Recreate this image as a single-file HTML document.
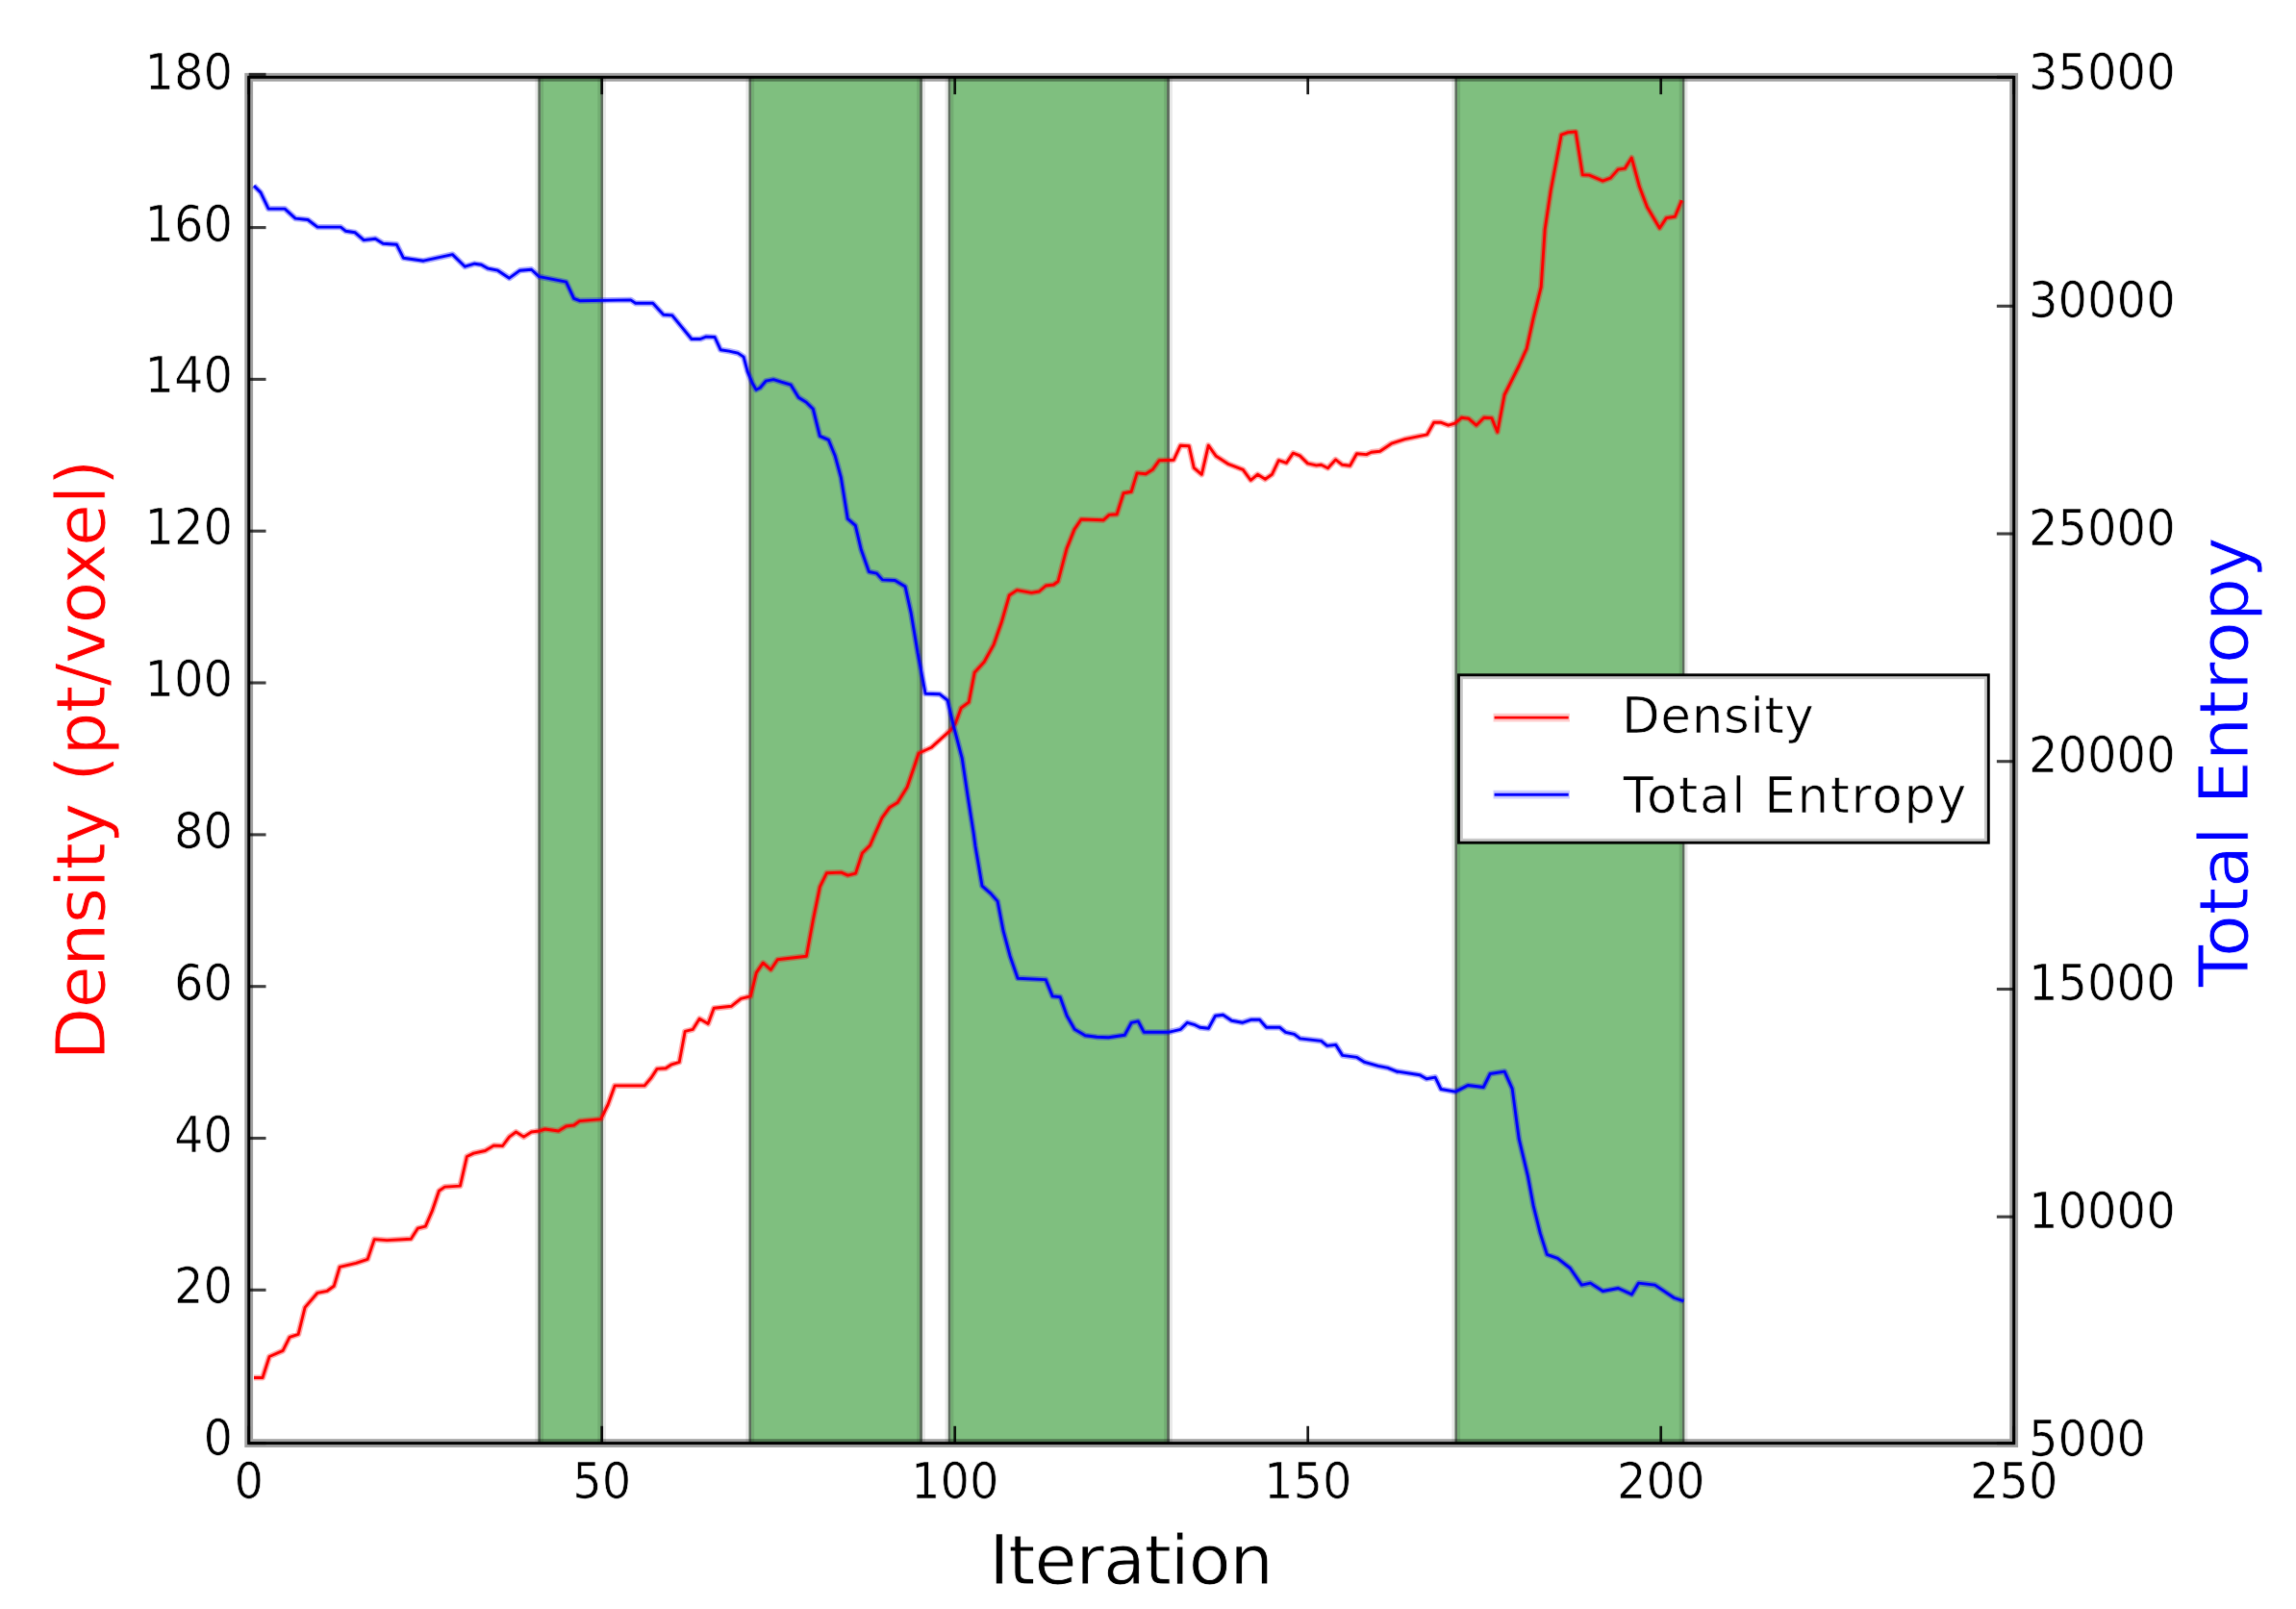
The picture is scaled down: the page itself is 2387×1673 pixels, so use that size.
<!DOCTYPE html>
<html><head><meta charset="utf-8"><title>Density and Total Entropy</title>
<style>html,body{margin:0;padding:0;background:#fff}body{width:2387px;height:1673px;overflow:hidden}</style></head>
<body>
<svg width="2387" height="1673" viewBox="0 0 2387 1673" style="display:block;font-family:'DejaVu Sans', 'Liberation Sans', sans-serif">
<g>
<rect x="-10" y="-10" width="2407" height="1693" fill="#fff"/>
<g id="bands">
<rect x="559.25" y="80.3" width="67.90" height="1420.3" fill="#7fbf7f"/>
<line x1="560.70" y1="80.3" x2="560.70" y2="1500.6" stroke="#5d6b5d" stroke-width="2.9"/>
<line x1="557.80" y1="80.3" x2="557.80" y2="1500.6" stroke="#e8e8e8" stroke-width="2.9"/>
<line x1="563.60" y1="80.3" x2="563.60" y2="1500.6" stroke="#72ad72" stroke-width="2.9"/>
<line x1="625.70" y1="80.3" x2="625.70" y2="1500.6" stroke="#5d6b5d" stroke-width="2.9"/>
<line x1="628.60" y1="80.3" x2="628.60" y2="1500.6" stroke="#e8e8e8" stroke-width="2.9"/>
<line x1="622.80" y1="80.3" x2="622.80" y2="1500.6" stroke="#72ad72" stroke-width="2.9"/>
<rect x="778.35" y="80.3" width="180.60" height="1420.3" fill="#7fbf7f"/>
<line x1="779.80" y1="80.3" x2="779.80" y2="1500.6" stroke="#5d6b5d" stroke-width="2.9"/>
<line x1="776.90" y1="80.3" x2="776.90" y2="1500.6" stroke="#e8e8e8" stroke-width="2.9"/>
<line x1="782.70" y1="80.3" x2="782.70" y2="1500.6" stroke="#72ad72" stroke-width="2.9"/>
<line x1="957.50" y1="80.3" x2="957.50" y2="1500.6" stroke="#5d6b5d" stroke-width="2.9"/>
<line x1="960.40" y1="80.3" x2="960.40" y2="1500.6" stroke="#e8e8e8" stroke-width="2.9"/>
<line x1="954.60" y1="80.3" x2="954.60" y2="1500.6" stroke="#72ad72" stroke-width="2.9"/>
<rect x="985.55" y="80.3" width="230.40" height="1420.3" fill="#7fbf7f"/>
<line x1="987.00" y1="80.3" x2="987.00" y2="1500.6" stroke="#5d6b5d" stroke-width="2.9"/>
<line x1="984.10" y1="80.3" x2="984.10" y2="1500.6" stroke="#e8e8e8" stroke-width="2.9"/>
<line x1="989.90" y1="80.3" x2="989.90" y2="1500.6" stroke="#72ad72" stroke-width="2.9"/>
<line x1="1214.50" y1="80.3" x2="1214.50" y2="1500.6" stroke="#5d6b5d" stroke-width="2.9"/>
<line x1="1217.40" y1="80.3" x2="1217.40" y2="1500.6" stroke="#e8e8e8" stroke-width="2.9"/>
<line x1="1211.60" y1="80.3" x2="1211.60" y2="1500.6" stroke="#72ad72" stroke-width="2.9"/>
<rect x="1512.35" y="80.3" width="239.20" height="1420.3" fill="#7fbf7f"/>
<line x1="1513.80" y1="80.3" x2="1513.80" y2="1500.6" stroke="#5d6b5d" stroke-width="2.9"/>
<line x1="1510.90" y1="80.3" x2="1510.90" y2="1500.6" stroke="#e8e8e8" stroke-width="2.9"/>
<line x1="1516.70" y1="80.3" x2="1516.70" y2="1500.6" stroke="#72ad72" stroke-width="2.9"/>
<line x1="1750.10" y1="80.3" x2="1750.10" y2="1500.6" stroke="#5d6b5d" stroke-width="2.9"/>
<line x1="1753.00" y1="80.3" x2="1753.00" y2="1500.6" stroke="#e8e8e8" stroke-width="2.9"/>
<line x1="1747.20" y1="80.3" x2="1747.20" y2="1500.6" stroke="#72ad72" stroke-width="2.9"/>
</g>
<g id="red" fill="none" stroke="#ff0000" stroke-linejoin="round" stroke-linecap="butt">
<path d="M264.0 1432.5 L273.0 1432.5 L280.1 1410.5 L294.1 1404.4 L301.1 1390.4 L310.1 1387.4 L317.1 1359.4 L330.1 1344.3 L340.2 1342.3 L347.2 1337.3 L353.2 1317.3 L370.2 1313.3 L382.2 1309.3 L389.2 1288.6 L402.3 1289.6 L427.3 1288.2 L434.3 1277.2 L442.3 1275.2 L449.3 1259.2 L456.4 1238.2 L462.4 1234.1 L478.4 1233.1 L485.4 1202.5 L492.4 1199.1 L504.4 1196.5 L513.5 1191.1 L522.5 1191.5 L529.5 1182.1 L536.5 1177.0 L544.5 1182.1 L552.5 1177.0 L560.5 1176.0 L566.6 1174.0 L580.6 1176.0 L588.6 1171.0 L596.6 1170.0 L602.6 1165.6 L624.7 1163.6 L632.1 1148.5 L639.1 1128.9 L670.1 1128.9 L677.1 1120.5 L683.1 1111.4 L692.2 1110.8 L698.2 1106.8 L706.2 1104.4 L712.2 1072.4 L720.2 1070.4 L727.2 1059.3 L736.2 1064.4 L742.2 1048.3 L760.3 1046.3 L770.3 1038.3 L780.3 1035.9 L786.3 1011.3 L793.3 1001.2 L801.4 1008.3 L808.4 997.8 L838.4 994.2 L845.4 956.2 L852.4 922.1 L859.5 907.7 L874.5 907.1 L881.5 910.1 L889.5 908.1 L896.5 887.0 L904.5 879.0 L909.0 868.5 L917.0 850.4 L925.0 839.4 L933.1 834.4 L943.1 818.4 L950.1 798.3 L955.1 783.3 L968.1 777.3 L988.2 759.3 L993.2 752.3 L999.2 736.2 L1007.2 730.2 L1013.2 699.2 L1023.2 688.2 L1033.2 670.1 L1041.2 647.1 L1049.3 619.0 L1057.3 613.6 L1072.3 616.4 L1080.3 615.0 L1087.3 609.0 L1095.3 608.0 L1100.0 604.5 L1109.0 570.4 L1117.0 550.4 L1124.0 540.0 L1147.1 540.8 L1153.1 535.4 L1161.1 534.8 L1168.1 512.7 L1176.1 511.3 L1182.1 491.9 L1191.2 492.7 L1198.2 488.3 L1205.2 478.7 L1220.2 478.3 L1227.2 463.2 L1236.2 463.8 L1241.2 486.3 L1249.3 493.3 L1256.3 463.2 L1264.3 474.3 L1277.3 482.7 L1292.3 488.3 L1300.3 499.3 L1307.4 493.3 L1315.4 498.3 L1322.4 493.3 L1329.4 478.7 L1337.4 481.3 L1344.4 471.2 L1351.4 473.9 L1359.5 481.9 L1368.5 483.9 L1373.5 483.3 L1380.5 486.7 L1388.5 477.9 L1395.5 483.3 L1403.5 484.3 L1410.5 471.8 L1420.6 472.6 L1425.6 470.2 L1434.6 469.2 L1446.6 461.2 L1460.6 456.6 L1483.7 451.8 L1490.7 439.2 L1497.7 439.2 L1505.7 442.2 L1512.7 440.2 L1519.7 434.2 L1526.7 435.2 L1534.8 442.2 L1542.8 434.2 L1550.8 434.6 L1556.8 449.2 L1564.1 410.5 L1579.1 380.5 L1587.2 362.4 L1594.2 330.4 L1602.2 298.3 L1606.2 238.2 L1612.2 198.2 L1623.2 140.1 L1630.2 137.6 L1638.2 137.0 L1645.3 181.7 L1652.3 182.1 L1666.3 188.1 L1674.3 185.1 L1682.3 176.1 L1689.3 175.1 L1696.3 164.1 L1704.4 194.1 L1712.4 215.2 L1725.4 237.2 L1732.4 226.6 L1741.4 225.2 L1748.4 208.2" stroke-width="6.2" stroke-opacity="0.33"/>
<path d="M264.0 1432.5 L273.0 1432.5 L280.1 1410.5 L294.1 1404.4 L301.1 1390.4 L310.1 1387.4 L317.1 1359.4 L330.1 1344.3 L340.2 1342.3 L347.2 1337.3 L353.2 1317.3 L370.2 1313.3 L382.2 1309.3 L389.2 1288.6 L402.3 1289.6 L427.3 1288.2 L434.3 1277.2 L442.3 1275.2 L449.3 1259.2 L456.4 1238.2 L462.4 1234.1 L478.4 1233.1 L485.4 1202.5 L492.4 1199.1 L504.4 1196.5 L513.5 1191.1 L522.5 1191.5 L529.5 1182.1 L536.5 1177.0 L544.5 1182.1 L552.5 1177.0 L560.5 1176.0 L566.6 1174.0 L580.6 1176.0 L588.6 1171.0 L596.6 1170.0 L602.6 1165.6 L624.7 1163.6 L632.1 1148.5 L639.1 1128.9 L670.1 1128.9 L677.1 1120.5 L683.1 1111.4 L692.2 1110.8 L698.2 1106.8 L706.2 1104.4 L712.2 1072.4 L720.2 1070.4 L727.2 1059.3 L736.2 1064.4 L742.2 1048.3 L760.3 1046.3 L770.3 1038.3 L780.3 1035.9 L786.3 1011.3 L793.3 1001.2 L801.4 1008.3 L808.4 997.8 L838.4 994.2 L845.4 956.2 L852.4 922.1 L859.5 907.7 L874.5 907.1 L881.5 910.1 L889.5 908.1 L896.5 887.0 L904.5 879.0 L909.0 868.5 L917.0 850.4 L925.0 839.4 L933.1 834.4 L943.1 818.4 L950.1 798.3 L955.1 783.3 L968.1 777.3 L988.2 759.3 L993.2 752.3 L999.2 736.2 L1007.2 730.2 L1013.2 699.2 L1023.2 688.2 L1033.2 670.1 L1041.2 647.1 L1049.3 619.0 L1057.3 613.6 L1072.3 616.4 L1080.3 615.0 L1087.3 609.0 L1095.3 608.0 L1100.0 604.5 L1109.0 570.4 L1117.0 550.4 L1124.0 540.0 L1147.1 540.8 L1153.1 535.4 L1161.1 534.8 L1168.1 512.7 L1176.1 511.3 L1182.1 491.9 L1191.2 492.7 L1198.2 488.3 L1205.2 478.7 L1220.2 478.3 L1227.2 463.2 L1236.2 463.8 L1241.2 486.3 L1249.3 493.3 L1256.3 463.2 L1264.3 474.3 L1277.3 482.7 L1292.3 488.3 L1300.3 499.3 L1307.4 493.3 L1315.4 498.3 L1322.4 493.3 L1329.4 478.7 L1337.4 481.3 L1344.4 471.2 L1351.4 473.9 L1359.5 481.9 L1368.5 483.9 L1373.5 483.3 L1380.5 486.7 L1388.5 477.9 L1395.5 483.3 L1403.5 484.3 L1410.5 471.8 L1420.6 472.6 L1425.6 470.2 L1434.6 469.2 L1446.6 461.2 L1460.6 456.6 L1483.7 451.8 L1490.7 439.2 L1497.7 439.2 L1505.7 442.2 L1512.7 440.2 L1519.7 434.2 L1526.7 435.2 L1534.8 442.2 L1542.8 434.2 L1550.8 434.6 L1556.8 449.2 L1564.1 410.5 L1579.1 380.5 L1587.2 362.4 L1594.2 330.4 L1602.2 298.3 L1606.2 238.2 L1612.2 198.2 L1623.2 140.1 L1630.2 137.6 L1638.2 137.0 L1645.3 181.7 L1652.3 182.1 L1666.3 188.1 L1674.3 185.1 L1682.3 176.1 L1689.3 175.1 L1696.3 164.1 L1704.4 194.1 L1712.4 215.2 L1725.4 237.2 L1732.4 226.6 L1741.4 225.2 L1748.4 208.2" stroke-width="2.9"/>
</g>
<g id="blue" fill="none" stroke="#0000ff" stroke-linejoin="round" stroke-linecap="butt">
<path d="M264.0 193.1 L271.0 200.1 L279.1 217.1 L296.1 217.1 L307.1 227.1 L320.1 228.5 L330.1 236.1 L354.2 236.1 L359.2 240.2 L369.2 241.8 L378.2 249.6 L390.2 248.2 L398.3 253.2 L412.3 254.2 L419.3 268.2 L440.3 271.2 L470.4 264.6 L483.4 277.2 L493.4 274.2 L500.4 275.2 L507.4 279.2 L517.5 281.2 L529.5 289.2 L540.5 281.2 L552.5 280.2 L560.5 287.6 L588.6 293.2 L596.6 310.3 L602.6 312.7 L655.7 311.9 L660.7 315.3 L678.7 315.3 L689.8 327.3 L698.8 327.9 L708.0 339.1 L719.0 352.5 L728.0 352.5 L734.1 350.1 L743.1 350.5 L749.1 363.7 L758.1 365.1 L767.1 367.1 L773.1 371.1 L777.1 386.1 L782.1 398.2 L786.1 405.2 L790.2 403.2 L796.2 396.2 L804.2 394.6 L812.2 397.2 L822.2 400.2 L830.2 413.2 L838.2 418.2 L845.3 425.2 L852.3 453.3 L861.3 457.3 L868.3 474.3 L874.3 496.3 L881.3 539.4 L889.3 546.4 L895.3 571.5 L903.4 594.5 L911.4 596.1 L917.4 602.9 L930.4 603.5 L940.4 609.5 L941.1 610.0 L947.1 637.1 L954.1 679.1 L962.1 721.2 L977.1 721.8 L985.1 728.2 L991.2 754.3 L1000.2 788.3 L1006.2 828.4 L1012.2 866.5 L1014.0 880.0 L1021.0 921.1 L1030.1 929.1 L1037.1 937.1 L1043.1 968.2 L1050.1 994.2 L1058.1 1017.2 L1087.2 1018.6 L1094.2 1035.9 L1102.2 1036.7 L1109.2 1056.3 L1117.2 1070.3 L1128.2 1076.7 L1140.2 1078.3 L1152.3 1078.7 L1169.3 1076.3 L1176.3 1063.3 L1183.3 1061.9 L1189.3 1073.3 L1214.4 1073.3 L1227.4 1070.3 L1234.4 1063.3 L1241.4 1065.3 L1247.4 1068.3 L1256.4 1069.3 L1263.5 1056.3 L1271.5 1055.3 L1280.5 1061.3 L1291.5 1063.3 L1300.5 1060.3 L1309.5 1060.3 L1316.6 1068.3 L1330.6 1068.3 L1336.6 1073.3 L1345.6 1075.3 L1351.6 1079.9 L1373.6 1082.4 L1379.7 1087.4 L1388.7 1086.4 L1395.7 1097.4 L1410.7 1099.4 L1418.7 1104.4 L1432.8 1108.4 L1442.8 1110.4 L1452.8 1114.4 L1453.0 1114.1 L1476.1 1117.7 L1483.1 1121.7 L1492.1 1120.1 L1498.1 1132.5 L1513.1 1135.1 L1526.1 1128.5 L1542.2 1130.5 L1549.2 1116.5 L1564.2 1114.1 L1572.2 1132.1 L1579.2 1184.2 L1588.3 1222.3 L1594.3 1254.4 L1601.3 1282.4 L1608.3 1304.4 L1619.3 1308.4 L1632.3 1318.5 L1644.4 1336.1 L1653.4 1334.1 L1666.4 1342.5 L1682.4 1339.5 L1696.4 1345.9 L1703.5 1334.1 L1720.5 1336.1 L1740.5 1349.5 L1750.5 1352.9" stroke-width="6.2" stroke-opacity="0.33"/>
<path d="M264.0 193.1 L271.0 200.1 L279.1 217.1 L296.1 217.1 L307.1 227.1 L320.1 228.5 L330.1 236.1 L354.2 236.1 L359.2 240.2 L369.2 241.8 L378.2 249.6 L390.2 248.2 L398.3 253.2 L412.3 254.2 L419.3 268.2 L440.3 271.2 L470.4 264.6 L483.4 277.2 L493.4 274.2 L500.4 275.2 L507.4 279.2 L517.5 281.2 L529.5 289.2 L540.5 281.2 L552.5 280.2 L560.5 287.6 L588.6 293.2 L596.6 310.3 L602.6 312.7 L655.7 311.9 L660.7 315.3 L678.7 315.3 L689.8 327.3 L698.8 327.9 L708.0 339.1 L719.0 352.5 L728.0 352.5 L734.1 350.1 L743.1 350.5 L749.1 363.7 L758.1 365.1 L767.1 367.1 L773.1 371.1 L777.1 386.1 L782.1 398.2 L786.1 405.2 L790.2 403.2 L796.2 396.2 L804.2 394.6 L812.2 397.2 L822.2 400.2 L830.2 413.2 L838.2 418.2 L845.3 425.2 L852.3 453.3 L861.3 457.3 L868.3 474.3 L874.3 496.3 L881.3 539.4 L889.3 546.4 L895.3 571.5 L903.4 594.5 L911.4 596.1 L917.4 602.9 L930.4 603.5 L940.4 609.5 L941.1 610.0 L947.1 637.1 L954.1 679.1 L962.1 721.2 L977.1 721.8 L985.1 728.2 L991.2 754.3 L1000.2 788.3 L1006.2 828.4 L1012.2 866.5 L1014.0 880.0 L1021.0 921.1 L1030.1 929.1 L1037.1 937.1 L1043.1 968.2 L1050.1 994.2 L1058.1 1017.2 L1087.2 1018.6 L1094.2 1035.9 L1102.2 1036.7 L1109.2 1056.3 L1117.2 1070.3 L1128.2 1076.7 L1140.2 1078.3 L1152.3 1078.7 L1169.3 1076.3 L1176.3 1063.3 L1183.3 1061.9 L1189.3 1073.3 L1214.4 1073.3 L1227.4 1070.3 L1234.4 1063.3 L1241.4 1065.3 L1247.4 1068.3 L1256.4 1069.3 L1263.5 1056.3 L1271.5 1055.3 L1280.5 1061.3 L1291.5 1063.3 L1300.5 1060.3 L1309.5 1060.3 L1316.6 1068.3 L1330.6 1068.3 L1336.6 1073.3 L1345.6 1075.3 L1351.6 1079.9 L1373.6 1082.4 L1379.7 1087.4 L1388.7 1086.4 L1395.7 1097.4 L1410.7 1099.4 L1418.7 1104.4 L1432.8 1108.4 L1442.8 1110.4 L1452.8 1114.4 L1453.0 1114.1 L1476.1 1117.7 L1483.1 1121.7 L1492.1 1120.1 L1498.1 1132.5 L1513.1 1135.1 L1526.1 1128.5 L1542.2 1130.5 L1549.2 1116.5 L1564.2 1114.1 L1572.2 1132.1 L1579.2 1184.2 L1588.3 1222.3 L1594.3 1254.4 L1601.3 1282.4 L1608.3 1304.4 L1619.3 1308.4 L1632.3 1318.5 L1644.4 1336.1 L1653.4 1334.1 L1666.4 1342.5 L1682.4 1339.5 L1696.4 1345.9 L1703.5 1334.1 L1720.5 1336.1 L1740.5 1349.5 L1750.5 1352.9" stroke-width="2.9"/>
</g>
<g id="spines" fill="none">
<rect x="258.7" y="80.3" width="1835.0" height="1420.3" stroke="#000" stroke-opacity="0.37" stroke-width="8.8"/>
<rect x="258.7" y="80.3" width="1835.0" height="1420.3" stroke="#000" stroke-width="3"/>
</g>
<g id="xticks" stroke="#000" stroke-width="2.7" stroke-opacity="0.9">
<line x1="258.7" y1="1500.6" x2="258.7" y2="1482.8"/>
<line x1="258.7" y1="80.3" x2="258.7" y2="98.1"/>
<line x1="625.7" y1="1500.6" x2="625.7" y2="1482.8"/>
<line x1="625.7" y1="80.3" x2="625.7" y2="98.1"/>
<line x1="992.7" y1="1500.6" x2="992.7" y2="1482.8"/>
<line x1="992.7" y1="80.3" x2="992.7" y2="98.1"/>
<line x1="1359.7" y1="1500.6" x2="1359.7" y2="1482.8"/>
<line x1="1359.7" y1="80.3" x2="1359.7" y2="98.1"/>
<line x1="1726.7" y1="1500.6" x2="1726.7" y2="1482.8"/>
<line x1="1726.7" y1="80.3" x2="1726.7" y2="98.1"/>
<line x1="2093.7" y1="1500.6" x2="2093.7" y2="1482.8"/>
<line x1="2093.7" y1="80.3" x2="2093.7" y2="98.1"/>
</g>
<g id="yticks" stroke="#000" stroke-width="3.1" stroke-opacity="0.75">
<line x1="258.7" y1="1500.6" x2="276.5" y2="1500.6"/>
<line x1="258.7" y1="1341.3" x2="276.5" y2="1341.3"/>
<line x1="258.7" y1="1183.5" x2="276.5" y2="1183.5"/>
<line x1="258.7" y1="1025.7" x2="276.5" y2="1025.7"/>
<line x1="258.7" y1="867.9" x2="276.5" y2="867.9"/>
<line x1="258.7" y1="710.0" x2="276.5" y2="710.0"/>
<line x1="258.7" y1="552.2" x2="276.5" y2="552.2"/>
<line x1="258.7" y1="394.4" x2="276.5" y2="394.4"/>
<line x1="258.7" y1="236.6" x2="276.5" y2="236.6"/>
<line x1="258.7" y1="77.4" x2="276.5" y2="77.4"/>
<line x1="2093.7" y1="1500.6" x2="2075.9" y2="1500.6"/>
<line x1="2093.7" y1="1265.2" x2="2075.9" y2="1265.2"/>
<line x1="2093.7" y1="1028.5" x2="2075.9" y2="1028.5"/>
<line x1="2093.7" y1="791.7" x2="2075.9" y2="791.7"/>
<line x1="2093.7" y1="555.0" x2="2075.9" y2="555.0"/>
<line x1="2093.7" y1="318.3" x2="2075.9" y2="318.3"/>
<line x1="2093.7" y1="80.3" x2="2075.9" y2="80.3"/>
</g>
<g id="ticklabels" font-size="50.0" fill="#000" stroke="#fff" stroke-width="0.7">
<text transform="translate(258.7 1558) scale(0.96 1.035)" text-anchor="middle">0</text>
<text transform="translate(625.7 1558) scale(0.96 1.035)" text-anchor="middle">50</text>
<text transform="translate(992.7 1558) scale(0.96 1.035)" text-anchor="middle">100</text>
<text transform="translate(1359.7 1558) scale(0.96 1.035)" text-anchor="middle">150</text>
<text transform="translate(1726.7 1558) scale(0.96 1.035)" text-anchor="middle">200</text>
<text transform="translate(2093.7 1558) scale(0.96 1.035)" text-anchor="middle">250</text>
<text transform="translate(242 1513.1) scale(0.96 1.035)" text-anchor="end">0</text>
<text transform="translate(242 1355.3) scale(0.96 1.035)" text-anchor="end">20</text>
<text transform="translate(242 1197.5) scale(0.96 1.035)" text-anchor="end">40</text>
<text transform="translate(242 1039.7) scale(0.96 1.035)" text-anchor="end">60</text>
<text transform="translate(242 881.9) scale(0.96 1.035)" text-anchor="end">80</text>
<text transform="translate(242 724.0) scale(0.96 1.035)" text-anchor="end">100</text>
<text transform="translate(242 566.2) scale(0.96 1.035)" text-anchor="end">120</text>
<text transform="translate(242 408.4) scale(0.96 1.035)" text-anchor="end">140</text>
<text transform="translate(242 250.6) scale(0.96 1.035)" text-anchor="end">160</text>
<text transform="translate(242 92.8) scale(0.96 1.035)" text-anchor="end">180</text>
<text transform="translate(2109 1513.6) scale(0.96 1.035)" text-anchor="start">5000</text>
<text transform="translate(2109 1276.9) scale(0.96 1.035)" text-anchor="start">10000</text>
<text transform="translate(2109 1040.2) scale(0.96 1.035)" text-anchor="start">15000</text>
<text transform="translate(2109 803.4) scale(0.96 1.035)" text-anchor="start">20000</text>
<text transform="translate(2109 566.7) scale(0.96 1.035)" text-anchor="start">25000</text>
<text transform="translate(2109 330.0) scale(0.96 1.035)" text-anchor="start">30000</text>
<text transform="translate(2109 93.3) scale(0.96 1.035)" text-anchor="start">35000</text>
</g>
<g id="axlabels" stroke="#fff" stroke-width="0.84">
<text id="xlabel" x="1175.6" y="1647" font-size="71.6" letter-spacing="-1" text-anchor="middle" fill="#000">Iteration</text>
<text id="ylabel" transform="translate(108.8 790.4) rotate(-90)" font-size="71.6" letter-spacing="-0.65" text-anchor="middle" fill="#ff0000">Density (pt/voxel)</text>
<text id="y2label" transform="translate(2337.3 792.4) rotate(-90)" font-size="71.6" text-anchor="middle" fill="#0000ff">Total Entropy</text>
</g>
<g id="legend">
<rect x="1516.5" y="701.8" width="550.8" height="174.4" fill="#fff" stroke="#000" stroke-width="2.9"/>
<rect x="1519.4" y="704.7" width="545" height="168.6" fill="none" stroke="#000" stroke-opacity="0.22" stroke-width="2.9"/>
<line x1="1552.5" y1="746.1" x2="1632" y2="746.1" stroke="#ff0000" stroke-opacity="0.2" stroke-width="8.7"/>
<line x1="1553.6" y1="746.1" x2="1630.7" y2="746.1" stroke="#ff0000" stroke-width="2.9"/>
<line x1="1552.5" y1="826.2" x2="1632" y2="826.2" stroke="#0000ff" stroke-opacity="0.2" stroke-width="8.7"/>
<line x1="1553.6" y1="826.2" x2="1630.7" y2="826.2" stroke="#0000ff" stroke-width="2.9"/>
<text x="1686" y="762.3" font-size="51.5" letter-spacing="0.67" fill="#000" stroke="#fff" stroke-width="0.7">Density</text>
<text x="1687.5" y="845.2" font-size="51.5" letter-spacing="1.67" fill="#000" stroke="#fff" stroke-width="0.7">Total Entropy</text>
</g>
</g>
</svg>
</body></html>
